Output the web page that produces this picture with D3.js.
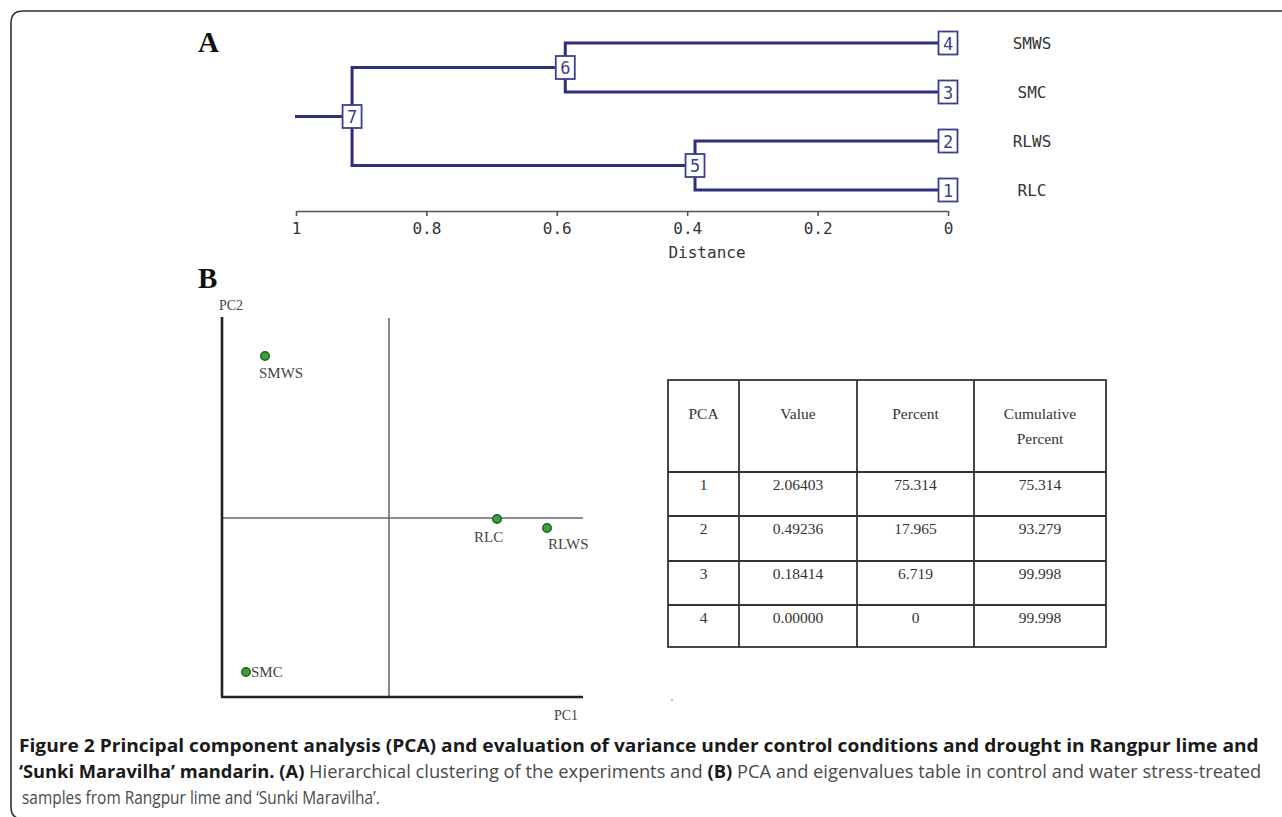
<!DOCTYPE html>
<html>
<head>
<meta charset="utf-8">
<script src="https://cdn.jsdelivr.net/npm/d3@7"></script>
<style>
  html, body { margin: 0; padding: 0; background: #fff; }
  svg { display: block; }
</style>
</head>
<body>
<svg id="fig" width="1282" height="817"></svg>
<script>
// --- datos del dendrograma ---
const leafIds = [4, 3, 2, 1];
const leafNames = ["SMWS", "SMC", "RLWS", "RLC"];
const mergeIds = [5, 6, 7];
const mergeA = [2, 4, 6];
const mergeB = [1, 3, 5];
const mergeDist = [0.388, 0.587, 0.914];
const distTicks = [1, 0.8, 0.6, 0.4, 0.2, 0];

// --- datos del PCA ---
const pcaNames = ["SMWS", "SMC", "RLC", "RLWS"];
const pc1 = [-1.24, -1.43, 1.08, 1.58];
const pc2 = [1.62, -1.54, -0.01, -0.10];

// --- tabla de autovalores ---
const tableHeader = ["PCA", "Value", "Percent", "Cumulative Percent"];
const tablePCA = ["1", "2", "3", "4"];
const tableValue = ["2.06403", "0.49236", "0.18414", "0.00000"];
const tablePercent = ["75.314", "17.965", "6.719", "0"];
const tableCumul = ["75.314", "93.279", "99.998", "99.998"];

const svg = d3.select("#fig");
const navy = "#2e2f7c";

// marco redondeado
svg.append("path")
  .attr("d", "M1290,11 H23 Q11,11 11,23 V807 Q11,818 21,819")
  .attr("fill", "none").attr("stroke", "#333").attr("stroke-width", 1.6);

// etiquetas de panel
svg.append("text").attr("x", 198).attr("y", 52).text("A")
  .attr("font-family", "Liberation Serif").attr("font-weight", "bold").attr("font-size", 29).attr("fill", "#111");
svg.append("text").attr("x", 198).attr("y", 288).text("B")
  .attr("font-family", "Liberation Serif").attr("font-weight", "bold").attr("font-size", 29).attr("fill", "#111");

// ================= Dendrograma =================
const xd = d3.scaleLinear().domain([1, 0]).range([296, 948]);
const yd = d3.scalePoint().domain(leafIds).range([43, 190]);

const nodes = {};
leafIds.forEach(id => { nodes[id] = { x: xd(0), y: yd(id) }; });
mergeIds.forEach((id, i) => {
  const a = nodes[mergeA[i]], b = nodes[mergeB[i]];
  nodes[id] = { x: xd(mergeDist[i]), y: (a.y + b.y) / 2, a: a, b: b };
});

const gd = svg.append("g");
mergeIds.forEach(id => {
  const n = nodes[id];
  [n.a, n.b].forEach(c => {
    gd.append("path")
      .attr("d", `M${n.x},${n.y} V${c.y} H${c.x}`)
      .attr("fill", "none").attr("stroke", navy).attr("stroke-width", 3);
  });
});
// tallo de la raíz
const root = nodes[7];
gd.append("line").attr("x1", xd(1) - 1).attr("x2", root.x).attr("y1", root.y).attr("y2", root.y)
  .attr("stroke", navy).attr("stroke-width", 3);

// cajitas con número
const allIds = leafIds.concat(mergeIds);
allIds.forEach(id => {
  const n = nodes[id];
  gd.append("rect").attr("x", n.x - 9.5).attr("y", n.y - 11.5).attr("width", 19).attr("height", 23)
    .attr("fill", "#fff").attr("stroke", "#3b3f8f").attr("stroke-width", 1.8);
  gd.append("text").attr("x", n.x).attr("y", n.y + 6.5).attr("text-anchor", "middle")
    .attr("font-family", "DejaVu Sans Mono").attr("font-size", 17).attr("fill", "#3b3f8f").text(id);
});

// nombres de hojas
leafIds.forEach((id, i) => {
  gd.append("text").attr("x", 1032).attr("y", yd(id) + 6).attr("text-anchor", "middle")
    .attr("font-family", "DejaVu Sans Mono").attr("font-size", 16).attr("fill", "#333").text(leafNames[i]);
});

// eje de distancia
const ax = svg.append("g").attr("transform", "translate(0,211)")
  .call(d3.axisBottom(xd).tickValues(distTicks).tickFormat(d => String(d)).tickSize(5).tickSizeOuter(0));
ax.select(".domain").attr("stroke", "#555").attr("stroke-width", 1.6);
ax.selectAll(".tick line").attr("stroke", "#555").attr("stroke-width", 1.6);
ax.selectAll(".tick text").attr("font-family", "DejaVu Sans Mono").attr("font-size", 16)
  .attr("fill", "#333").attr("dy", "0.95em");
svg.append("text").attr("x", 707).attr("y", 258).attr("text-anchor", "middle")
  .attr("font-family", "DejaVu Sans Mono").attr("font-size", 16).attr("fill", "#333").text("Distance");

// ================= PCA =================
const xs = d3.scaleLinear().domain([-1.67, 1.94]).range([222, 583]);
const ys = d3.scaleLinear().domain([-1.79, 2.01]).range([697, 317]);
const gp = svg.append("g");

// líneas centrales
gp.append("line").attr("x1", xs(0)).attr("x2", xs(0)).attr("y1", ys.range()[1] + 1).attr("y2", ys.range()[0])
  .attr("stroke", "#555").attr("stroke-width", 1.4);
gp.append("line").attr("x1", xs.range()[0]).attr("x2", xs.range()[1]).attr("y1", ys(0)).attr("y2", ys(0))
  .attr("stroke", "#666").attr("stroke-width", 1.6);
// ejes
gp.append("line").attr("x1", xs.range()[0]).attr("x2", xs.range()[0]).attr("y1", ys.range()[1]).attr("y2", ys.range()[0])
  .attr("stroke", "#222").attr("stroke-width", 2.6);
gp.append("line").attr("x1", xs.range()[0] - 1).attr("x2", xs.range()[1]).attr("y1", ys.range()[0]).attr("y2", ys.range()[0])
  .attr("stroke", "#222").attr("stroke-width", 2.6);

gp.append("text").attr("x", 231).attr("y", 310).attr("text-anchor", "middle")
  .attr("font-family", "Liberation Serif").attr("font-size", 14).attr("fill", "#444").text("PC2");
gp.append("text").attr("x", 566).attr("y", 720).attr("text-anchor", "middle")
  .attr("font-family", "Liberation Serif").attr("font-size", 14).attr("fill", "#444").text("PC1");

// desplazamientos de etiquetas
const lblDx = { SMWS: -6, SMC: 5, RLC: -23, RLWS: 1 };
const lblDy = { SMWS: 22, SMC: 5, RLC: 23, RLWS: 21 };
pcaNames.forEach((name, i) => {
  const cx = xs(pc1[i]), cy = ys(pc2[i]);
  gp.append("circle").attr("cx", cx).attr("cy", cy).attr("r", 4.3)
    .attr("fill", "#3aa13a").attr("stroke", "#1f5e22").attr("stroke-width", 1.4);
  gp.append("text").attr("x", cx + lblDx[name]).attr("y", cy + lblDy[name])
    .attr("font-family", "Liberation Serif").attr("font-size", 15).attr("fill", "#444").text(name);
});

// ================= Tabla =================
const colEdges = [668, 739, 857, 974, 1106];
const rowEdges = [380, 472, 516, 561, 605, 647];
const gt = svg.append("g");
gt.append("rect").attr("x", colEdges[0]).attr("y", rowEdges[0])
  .attr("width", colEdges[4] - colEdges[0]).attr("height", rowEdges[5] - rowEdges[0])
  .attr("fill", "none").attr("stroke", "#333").attr("stroke-width", 1.8);
colEdges.slice(1, -1).forEach(x => {
  gt.append("line").attr("x1", x).attr("x2", x).attr("y1", rowEdges[0]).attr("y2", rowEdges[5])
    .attr("stroke", "#333").attr("stroke-width", 1.8);
});
rowEdges.slice(1, -1).forEach(y => {
  gt.append("line").attr("x1", colEdges[0]).attr("x2", colEdges[4]).attr("y1", y).attr("y2", y)
    .attr("stroke", "#333").attr("stroke-width", 1.8);
});
const colMid = i => (colEdges[i] + colEdges[i + 1]) / 2;
const tfont = t => t.attr("font-family", "Liberation Serif").attr("font-size", 15.5)
  .attr("fill", "#333").attr("text-anchor", "middle");
tableHeader.forEach((h, i) => {
  const parts = i === 3 ? ["Cumulative", "Percent"] : [h];
  parts.forEach((p, k) => {
    gt.append("text").attr("x", colMid(i)).attr("y", 419 + k * 25).text(p).call(tfont);
  });
});
const cols = [tablePCA, tableValue, tablePercent, tableCumul];
cols.forEach((col, i) => {
  col.forEach((v, r) => {
    gt.append("text").attr("x", colMid(i)).attr("y", rowEdges[r + 1] + 18).text(v).call(tfont);
  });
});
// pequeño punto gris
svg.append("rect").attr("x", 671).attr("y", 699).attr("width", 2).attr("height", 2).attr("fill", "#bbb");

// ================= Pie de figura =================
const capFont = "'Open Sans', 'Noto Sans', sans-serif";
function capLine(x, y, parts, targetW) {
  const t = svg.append("text").attr("y", 0).attr("font-family", capFont).attr("font-size", 18.5);
  parts.forEach(p => {
    t.append("tspan").text(p[0]).attr("font-weight", p[1] ? "bold" : "normal")
      .attr("fill", p[1] ? "#1a1a1a" : "#4a4a4a");
  });
  const w = t.node().getComputedTextLength();
  t.attr("transform", `translate(${x},${y}) scale(${targetW / w},1)`);
}
capLine(19, 752, [["Figure 2 Principal component analysis (PCA) and evaluation of variance under control conditions and drought in Rangpur lime and", true]], 1240);
capLine(19, 778, [["\u2018Sunki Maravilha\u2019 mandarin. ", true], ["(A)", true], [" Hierarchical clustering of the experiments and ", false], ["(B)", true], [" PCA and eigenvalues table in control and water stress-treated", false]], 1243);
capLine(22, 804, [["samples from Rangpur lime and \u2018Sunki Maravilha\u2019.", false]], 358);
</script>
</body>
</html>
